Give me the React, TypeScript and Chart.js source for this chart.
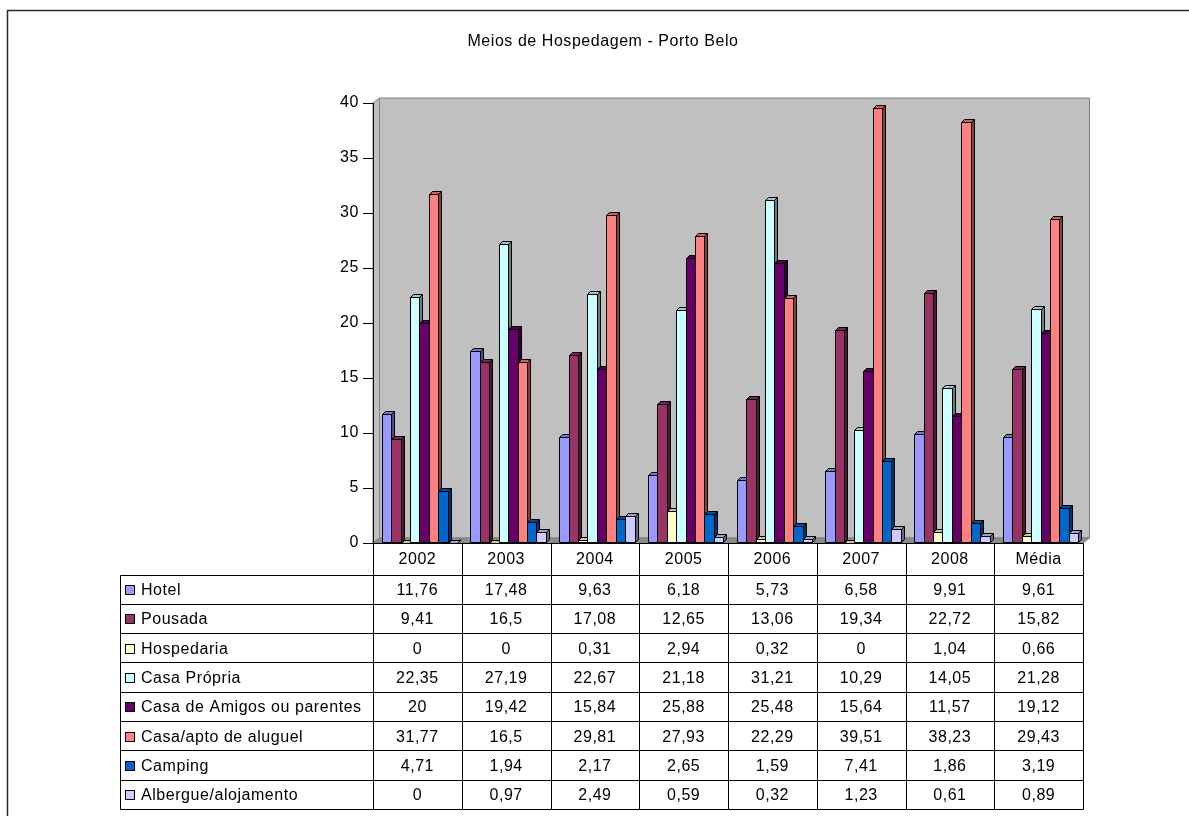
import React, { useEffect, useRef } from "react";
import { Chart, registerables } from "chart.js";

Chart.register(...registerables);

const titleText = "Meios de Hospedagem - Porto Belo";
const categories = ["2002", "2003", "2004", "2005", "2006", "2007", "2008", "Média"];
const seriesNames = [
  "Hotel",
  "Pousada",
  "Hospedaria",
  "Casa Própria",
  "Casa de Amigos ou parentes",
  "Casa/apto de aluguel",
  "Camping",
  "Albergue/alojamento",
];
const hotel = [11.76, 17.48, 9.63, 6.18, 5.73, 6.58, 9.91, 9.61];
const pousada = [9.41, 16.5, 17.08, 12.65, 13.06, 19.34, 22.72, 15.82];
const hospedaria = [0, 0, 0.31, 2.94, 0.32, 0, 1.04, 0.66];
const casaPropria = [22.35, 27.19, 22.67, 21.18, 31.21, 10.29, 14.05, 21.28];
const casaAmigos = [20, 19.42, 15.84, 25.88, 25.48, 15.64, 11.57, 19.12];
const casaAluguel = [31.77, 16.5, 29.81, 27.93, 22.29, 39.51, 38.23, 29.43];
const camping = [4.71, 1.94, 2.17, 2.65, 1.59, 7.41, 1.86, 3.19];
const albergue = [0, 0.97, 2.49, 0.59, 0.32, 1.23, 0.61, 0.89];
const seriesValues = [hotel, pousada, hospedaria, casaPropria, casaAmigos, casaAluguel, camping, albergue];
const seriesColors = ["#9999FF", "#993366", "#FFFFCC", "#CCFFFF", "#660066", "#FF8080", "#0066CC", "#CCCCFF"];
const yMin = 0;
const yMax = 40;
const yStep = 5;

const FONT = '"Liberation Sans", Arial, sans-serif';

function shade(hex: string, f: number): string {
  const n = parseInt(hex.slice(1), 16);
  const r = Math.round(((n >> 16) & 255) * f);
  const g = Math.round(((n >> 8) & 255) * f);
  const b = Math.round((n & 255) * f);
  return `rgb(${r},${g},${b})`;
}

function poly(ctx: CanvasRenderingContext2D, pts: number[][], fill: string) {
  ctx.beginPath();
  ctx.moveTo(pts[0][0], pts[0][1]);
  for (let i = 1; i < pts.length; i++) ctx.lineTo(pts[i][0], pts[i][1]);
  ctx.closePath();
  ctx.fillStyle = fill;
  ctx.fill();
  ctx.stroke();
}

const fmt = (v: number) => String(v).replace(".", ",");

const excelPlugin = {
  id: "excel3d",
  beforeDraw(chart: any) {
    const ctx: CanvasRenderingContext2D = chart.ctx;
    (ctx as any).letterSpacing = "0.55px";
    const { left, right, top, bottom } = chart.chartArea;
    ctx.save();
    ctx.fillStyle = "#fff";
    ctx.fillRect(0, 0, chart.width, chart.height);
    // outer border
    ctx.strokeStyle = "#2a2a2a";
    ctx.lineWidth = 1.5;
    ctx.strokeRect(7.5, 10.5, chart.width + 20, chart.height + 20);
    // title
    ctx.fillStyle = "#000";
    ctx.font = `16px ${FONT}`;
    ctx.textAlign = "center";
    ctx.textBaseline = "middle";
    ctx.fillText(titleText, 603, 42);
    // walls
    const dx = 6.5, dy = 5;
    ctx.lineWidth = 1;
    ctx.strokeStyle = "#808080";
    poly(ctx, [[left + dx, top - dy], [right + dx, top - dy], [right + dx, bottom - dy], [left + dx, bottom - dy]], "#C0C0C0");
    poly(ctx, [[left, top], [left + dx, top - dy], [left + dx, bottom - dy], [left, bottom]], "#C0C0C0");
    poly(ctx, [[left, bottom], [left + dx, bottom - dy], [right + dx, bottom - dy], [right, bottom]], "#8c8c8c");
    ctx.restore();
  },
  beforeDatasetsDraw(chart: any) {
    const ctx: CanvasRenderingContext2D = chart.ctx;
    const n = chart.data.datasets.length;
    const nc = chart.data.labels.length;
    const D = 3;
    ctx.save();
    ctx.lineWidth = 1;
    ctx.strokeStyle = "#000";
    ctx.lineJoin = "miter";
    for (let i = 0; i < nc; i++) {
      for (let d = 0; d < n; d++) {
        const el = chart.getDatasetMeta(d).data[i];
        const p = el.getProps(["x", "y", "base", "width"], true);
        const l = Math.round(p.x - p.width / 2 + 2) + 0.5;
        const r = Math.round(p.x + p.width / 2 + 2) + 0.5;
        const b = Math.round(p.base - 1) + 0.5;
        const y = Math.round(p.y) + 0.5;
        const col = chart.data.datasets[d].backgroundColor as string;
        poly(ctx, [[r, y], [r + D, y - D], [r + D, b - D], [r, b]], shade(col, 0.5));
        poly(ctx, [[l, y], [l + D, y - D], [r + D, y - D], [r, y]], shade(col, 0.78));
        if (b - y > 0) poly(ctx, [[l, y], [r, y], [r, b], [l, b]], col);
      }
    }
    ctx.restore();
    return false;
  },
  afterDraw(chart: any) {
    const ctx: CanvasRenderingContext2D = chart.ctx;
    const xs = chart.scales.x;
    const { left, right, bottom } = chart.chartArea;
    const n = chart.data.datasets.length;
    const nc = chart.data.labels.length;
    const colW = (right - left) / nc;
    const headTop = bottom;
    const headBottom = bottom + 31.5;
    const rowH = 29.3;
    const tableBottom = headBottom + rowH * n;
    const labelLeft = 120;
    const px = (v: number) => Math.round(v) + 0.5;
    ctx.save();
    ctx.strokeStyle = "#000";
    ctx.lineWidth = 1;
    ctx.beginPath();
    ctx.moveTo(px(left), px(headTop));
    ctx.lineTo(px(right), px(headTop));
    for (let k = 0; k <= n; k++) {
      const yy = px(headBottom + rowH * k);
      ctx.moveTo(px(labelLeft), yy);
      ctx.lineTo(px(right), yy);
    }
    ctx.moveTo(px(labelLeft), px(headBottom));
    ctx.lineTo(px(labelLeft), px(tableBottom));
    for (let c = 0; c <= nc; c++) {
      const xx = px(xs.getPixelForValue(c) - colW / 2);
      ctx.moveTo(xx, px(headTop));
      ctx.lineTo(xx, px(tableBottom));
    }
    ctx.stroke();
    // header text
    ctx.fillStyle = "#000";
    ctx.font = `16px ${FONT}`;
    ctx.textBaseline = "alphabetic";
    ctx.textAlign = "center";
    for (let c = 0; c < nc; c++) {
      ctx.fillText(chart.data.labels[c], xs.getPixelForValue(c), headTop + 21);
    }
    for (let d = 0; d < n; d++) {
      const ds = chart.data.datasets[d];
      const rowTop = headBottom + rowH * d;
      const base = rowTop + rowH / 2 + 6;
      // legend key
      ctx.fillStyle = ds.backgroundColor;
      ctx.fillRect(125.5, Math.round(rowTop + rowH / 2 - 4) + 0.5, 9, 9);
      ctx.strokeRect(125.5, Math.round(rowTop + rowH / 2 - 4) + 0.5, 9, 9);
      ctx.fillStyle = "#000";
      ctx.textAlign = "left";
      ctx.fillText(ds.label, 141, base);
      ctx.textAlign = "center";
      for (let c = 0; c < nc; c++) {
        ctx.fillText(fmt(ds.data[c]), xs.getPixelForValue(c), base);
      }
    }
    ctx.restore();
  },
};

export default function App() {
  const ref = useRef<HTMLCanvasElement>(null);
  useEffect(() => {
    const chart = new Chart(ref.current as HTMLCanvasElement, {
      type: "bar",
      data: {
        labels: categories,
        datasets: seriesNames.map((name, i) => ({
          label: name,
          data: seriesValues[i],
          backgroundColor: seriesColors[i],
          borderColor: "#000",
          borderWidth: 1,
          categoryPercentage: 0.85,
          barPercentage: 1,
        })),
      },
      options: {
        responsive: false,
        animation: false,
        devicePixelRatio: 1,
        layout: { padding: { left: 313, right: 106, top: 103, bottom: 273 } },
        plugins: {
          legend: { display: false },
          title: { display: false },
          tooltip: { enabled: false },
        },
        scales: {
          x: { display: false },
          y: {
            min: yMin,
            max: yMax,
            afterFit: (scale: any) => {
              scale.width = 60;
            },
            ticks: {
              stepSize: yStep,
              padding: 4,
              color: "#000",
              font: { family: FONT, size: 16 },
            },
            grid: {
              drawOnChartArea: false,
              drawTicks: true,
              tickLength: 10,
              color: "#000",
              tickColor: "#000",
            },
            border: { display: true, color: "#000", width: 1 },
          },
        },
      },
      plugins: [excelPlugin],
    });
    return () => chart.destroy();
  }, []);
  return (
    <div style={{ position: "fixed", left: 0, top: 0, width: 1189, height: 816, background: "#fff" }}>
      <canvas ref={ref} width={1189} height={816} style={{ display: "block", width: 1189, height: 816 }} />
    </div>
  );
}
